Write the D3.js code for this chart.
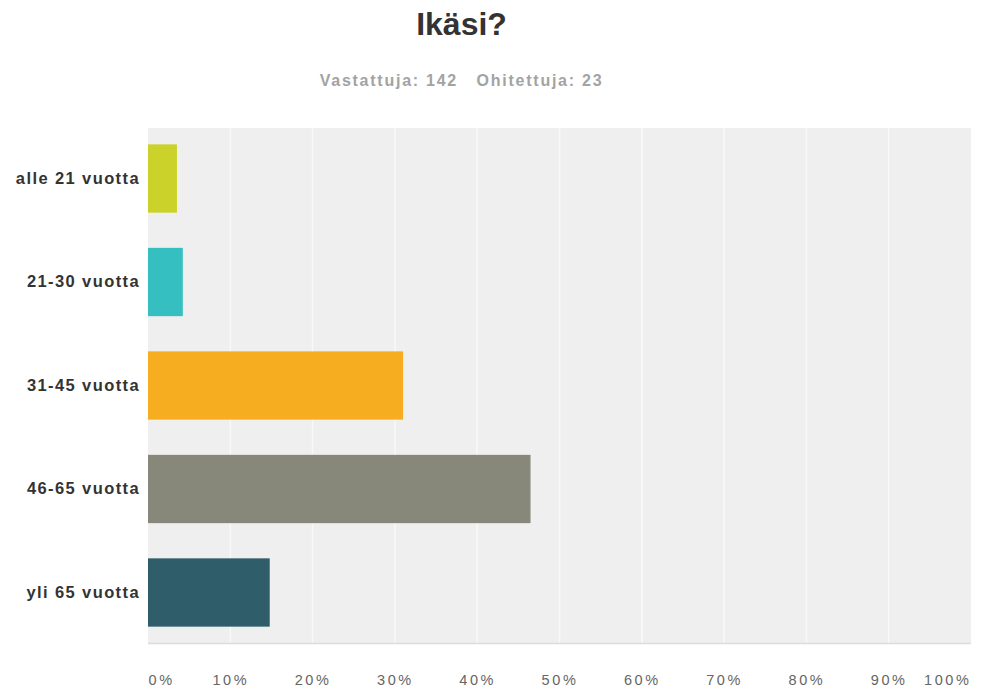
<!DOCTYPE html>
<html>
<head>
<meta charset="utf-8">
<script src="https://cdn.jsdelivr.net/npm/d3@7"></script>
<style>
  html, body { margin: 0; padding: 0; background: #ffffff; }
  svg { display: block; }
</style>
</head>
<body>
<svg id="chart" width="981" height="691"></svg>
<script>
// Age groups and share of respondents (%)
const categories = ["alle 21 vuotta", "21-30 vuotta", "31-45 vuotta", "46-65 vuotta", "yli 65 vuotta"];
const percents = [3.52, 4.23, 30.99, 46.48, 14.79];
const barColors = ["#cbd32b", "#36bfc0", "#f6ad1f", "#87887a", "#2f5e6a"];
const tickValues = [0, 10, 20, 30, 40, 50, 60, 70, 80, 90, 100];
const titleText = "Ikäsi?";
const answered = 142;
const skipped = 23;

const svg = d3.select("#chart");

const plot = { left: 148, right: 971, top: 128, bottom: 643 };

const x = d3.scaleLinear().domain([0, 100]).range([plot.left, plot.right]);
const y = d3.scaleBand().domain(categories)
  .range([plot.top, plot.bottom])
  .paddingInner(0.34).paddingOuter(0.158);

// Title and response summary
svg.append("text")
  .attr("x", 461.5).attr("y", 35)
  .attr("text-anchor", "middle")
  .attr("font-family", "Liberation Sans, Arial, sans-serif")
  .attr("font-weight", "bold")
  .attr("font-size", 32)
  .attr("fill", "#333333")
  .text(titleText);

svg.append("text")
  .attr("x", 461.5).attr("y", 86)
  .attr("text-anchor", "middle")
  .attr("font-family", "Liberation Sans, Arial, sans-serif")
  .attr("font-weight", "bold")
  .attr("font-size", 16)
  .attr("letter-spacing", "1.75px")
  .attr("fill", "#a3a3a3")
  .attr("xml:space", "preserve")
  .text(`Vastattuja: ${answered}   Ohitettuja: ${skipped}`);

// Plot background
svg.append("rect")
  .attr("x", plot.left).attr("y", plot.top)
  .attr("width", plot.right - plot.left)
  .attr("height", plot.bottom - plot.top)
  .attr("fill", "#efefef");

// Vertical gridlines
svg.append("g").selectAll("line")
  .data(tickValues.filter(d => d > 0 && d < 100))
  .join("line")
  .attr("x1", d => x(d)).attr("x2", d => x(d))
  .attr("y1", plot.top).attr("y2", plot.bottom)
  .attr("stroke", "#f8f8f8")
  .attr("stroke-width", 1.6);

// Bottom edge of plot area
svg.append("line")
  .attr("x1", plot.left).attr("x2", plot.right)
  .attr("y1", plot.bottom + 0.5).attr("y2", plot.bottom + 0.5)
  .attr("stroke", "#dcdcdc")
  .attr("stroke-width", 1.5);

// Bars
svg.append("g").selectAll("rect")
  .data(categories)
  .join("rect")
  .attr("x", x(0))
  .attr("y", d => y(d))
  .attr("width", (d, i) => x(percents[i]) - x(0))
  .attr("height", y.bandwidth())
  .attr("fill", (d, i) => barColors[i]);

// Category labels
const yAxis = svg.append("g")
  .attr("transform", `translate(${plot.left - 8},0)`)
  .call(d3.axisLeft(y).tickSize(0).tickPadding(0));
yAxis.select(".domain").remove();
yAxis.selectAll("text")
  .attr("font-family", "Liberation Sans, Arial, sans-serif")
  .attr("font-weight", "bold")
  .attr("font-size", 16.5)
  .attr("letter-spacing", "1.4px")
  .attr("fill", "#333333");

// Percentage axis
const xAxis = svg.append("g")
  .attr("transform", `translate(0,${plot.bottom})`)
  .call(d3.axisBottom(x).tickValues(tickValues).tickSize(0).tickPadding(0)
    .tickFormat(d => d + "%"));
xAxis.select(".domain").remove();
xAxis.selectAll("text")
  .attr("y", 42)
  .attr("dy", 0)
  .attr("font-family", "Liberation Sans, Arial, sans-serif")
  .attr("font-size", 14.5)
  .attr("letter-spacing", "2.6px")
  .attr("fill", "#666666")
  .attr("text-anchor", d => d === 0 ? "start" : d === 100 ? "end" : "middle");
</script>
</body>
</html>
